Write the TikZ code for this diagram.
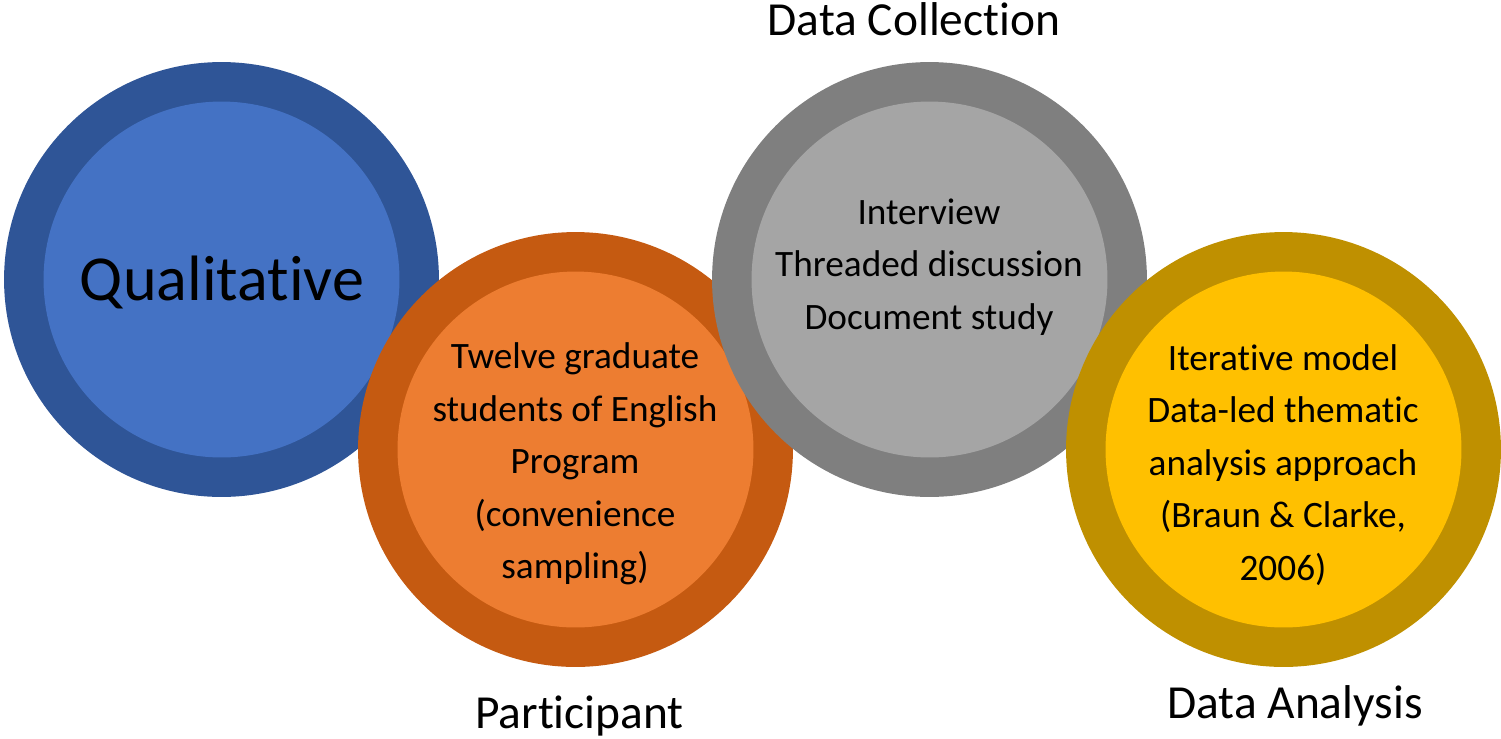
\documentclass[tikz,border=0pt]{standalone}
\usepackage{fontspec}
\setmainfont{Carlito}[RawFeature={-liga;-clig;-calt;-dlig;-hlig}]
\usepackage{tikz}

\definecolor{blueout}{HTML}{2F5597}
\definecolor{bluein}{HTML}{4472C4}
\definecolor{orangeout}{HTML}{C55A11}
\definecolor{orangein}{HTML}{ED7D31}
\definecolor{grayout}{HTML}{7F7F7F}
\definecolor{grayin}{HTML}{A5A5A5}
\definecolor{goldout}{HTML}{BF9000}
\definecolor{goldin}{HTML}{FFC000}

\begin{document}
\begin{tikzpicture}[x=0.02cm,y=-0.02cm,
  ring/.style={circle,minimum size=8.7cm,inner sep=0pt},
  disc/.style={circle,minimum size=7.12cm,inner sep=0pt},
  body/.style={align=center,font=\fontsize{21.2}{29.9}\selectfont},
  heading/.style={anchor=base,font=\fontsize{27}{31}\selectfont}]
\useasboundingbox (0,0) rectangle (1501,738);
% the four rings, left to right
\node[ring,fill=blueout] (qualring) at (221.5,279.5) {};
\node[disc,fill=bluein] (qual) at (qualring.center) {};
\node[ring,fill=orangeout] (partring) at (575.5,449.5) {};
\node[disc,fill=orangein] (part) at (partring.center) {};
\node[ring,fill=grayout] (collring) at (929.5,279.5) {};
\node[disc,fill=grayin] (coll) at (collring.center) {};
\node[ring,fill=goldout] (anaring) at (1283.5,449.5) {};
\node[disc,fill=goldin] (ana) at (anaring.center) {};
% texts inside
\node[anchor=base,font=\fontsize{36.5}{40}\selectfont] (qualtext) at (222,300) {Qualitative};
\node[body] (parttext) at (575,464) {Twelve graduate\\students of English\\Program\\(convenience\\sampling)};
\node[body] (colltext) at (929,267) {Interview\\Threaded discussion\\Document study};
\node[body] (anatext) at (1283,465) {Iterative model\\Data-led thematic\\analysis approach\\(Braun \& Clarke,\\2006)};
% headings
\node[heading] (collhead) at (914,35) {Data Collection};
\node[heading] (parthead) at (579.5,728) {Participant};
\node[heading] (anahead) at (1295,718) {Data Analysis};
\end{tikzpicture}
\end{document}
